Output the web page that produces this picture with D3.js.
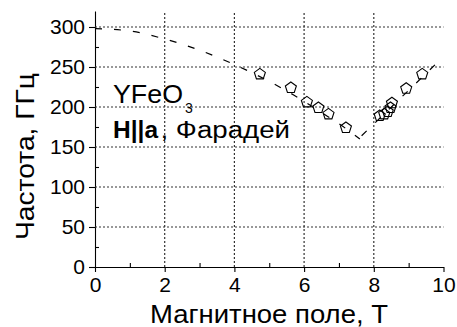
<!DOCTYPE html>
<html>
<head>
<meta charset="utf-8">
<script src="https://cdn.jsdelivr.net/npm/d3@7"></script>
<style>
  body { margin: 0; background: #fff; }
  svg { display: block; }
  text { font-family: Arial, "Liberation Sans", sans-serif; fill: #000; }
</style>
</head>
<body>
<svg id="chart" width="457" height="327"></svg>
<script>
// Axis ticks
const fieldTicks = [0, 2, 4, 6, 8, 10];
const fieldMinorTicks = [1, 3, 5, 7, 9];
const freqTicks = [0, 50, 100, 150, 200, 250, 300];
const freqMinorTicks = [25, 75, 125, 175, 225, 275];
const gridField = [2, 4, 6, 8];
const gridFreq = [50, 100, 150, 200, 250, 300];

// Measured resonance frequencies (T, GHz)
const lowField = [4.73, 5.62, 6.08, 6.41, 6.70, 7.20];
const lowFreq = [242, 225, 207, 200, 192, 175];
const highField = [8.17, 8.30, 8.40, 8.48, 8.52, 8.93, 9.39];
const highFreq = [190, 192, 195, 200, 206, 224, 242];

// Calculated branches (dashed)
const calcLowField = [0, 1, 2, 3, 4, 5, 5.7, 6.5, 7.2, 7.6];
const calcLowFreq = [298, 295, 285, 271, 253, 232, 215, 193, 173, 160];
const calcHighField = [7.65, 10];
const calcHighFreq = [164, 263];

const svg = d3.select("#chart");
const x = d3.scaleLinear().domain([0, 10]).range([95, 443.5]);
const y = d3.scaleLinear().domain([0, 320]).range([267, 11]);

// Minor ticks (inside)
svg.append("g").attr("class", "minor").attr("transform", `translate(0,${y(0)})`)
  .call(d3.axisBottom(x).tickValues(fieldMinorTicks).tickSize(-4).tickSizeOuter(0).tickFormat(""))
  .call(g => g.select(".domain").remove());
svg.append("g").attr("class", "minor").attr("transform", `translate(${x(0)},0)`)
  .call(d3.axisLeft(y).tickValues(freqMinorTicks).tickSize(-4).tickSizeOuter(0).tickFormat(""))
  .call(g => g.select(".domain").remove());
svg.selectAll(".minor line").attr("stroke", "#000").attr("stroke-width", 1.1);

// Major axes
const xAxis = svg.append("g").attr("class", "major").attr("transform", `translate(0,${y(0)})`)
  .call(d3.axisBottom(x).tickValues(fieldTicks).tickSize(5).tickSizeOuter(0).tickPadding(5));
xAxis.selectAll("text").attr("font-size", 21).attr("font-family", null).attr("dy", "0.71em");
const yAxis = svg.append("g").attr("class", "major").attr("transform", `translate(${x(0)},0)`)
  .call(d3.axisLeft(y).tickValues(freqTicks).tickSize(6).tickSizeOuter(0).tickPadding(4));
yAxis.selectAll("text").attr("font-size", 21).attr("font-family", null);
svg.selectAll(".major .domain, .major .tick line").attr("stroke", "#000").attr("stroke-width", 1.1);

// Dotted grid through the major ticks
const grid = svg.append("g").attr("class", "grid")
  .attr("stroke", "#333").attr("stroke-width", 1.2).attr("stroke-dasharray", "2,2");
gridField.forEach(d => {
  grid.append("line").attr("x1", x(d)).attr("x2", x(d)).attr("y1", y(0)).attr("y2", y(320));
});
gridFreq.forEach(d => {
  grid.append("line").attr("x1", x(0)).attr("x2", x(10)).attr("y1", y(d)).attr("y2", y(d));
});

// Dashed calculated branches
const line = d3.line().x(d => x(d[0])).y(d => y(d[1])).curve(d3.curveMonotoneX);
const dashed = svg.append("g").attr("fill", "none").attr("stroke", "#000")
  .attr("stroke-width", 1.2).attr("stroke-dasharray", "7,12");
dashed.append("path").attr("d", line(d3.zip(calcLowField, calcLowFreq)));
dashed.append("path").attr("d", line(d3.zip(calcHighField, calcHighFreq)));

// Open pentagon markers
const r = 5.8;
const pentagon = d3.range(5).map(i => {
  const a = -Math.PI / 2 + i * 2 * Math.PI / 5;
  return [r * Math.cos(a), r * Math.sin(a)];
});
const pentPath = "M" + pentagon.map(p => p.join(",")).join("L") + "Z";
const pts = d3.zip(lowField, lowFreq).concat(d3.zip(highField, highFreq));
svg.append("g").selectAll("path").data(pts).join("path")
  .attr("d", pentPath)
  .attr("transform", d => `translate(${x(d[0])},${y(d[1]) + 0.8})`)
  .attr("fill", "none").attr("stroke", "#000").attr("stroke-width", 1.1);

// Annotation
svg.append("text").attr("x", 113).attr("y", 103.3).attr("font-size", 25.5)
  .attr("textLength", 70).attr("lengthAdjust", "spacingAndGlyphs").text("YFeO");
svg.append("text").attr("x", 185).attr("y", 113.3).attr("font-size", 14).text("3");
svg.append("text").attr("x", 113).attr("y", 138.3).attr("font-size", 23)
  .attr("font-weight", "bold").attr("textLength", 45).attr("lengthAdjust", "spacingAndGlyphs")
  .text("H||a");
svg.append("text").attr("x", 160.5).attr("y", 138.3).attr("font-size", 23)
  .attr("textLength", 129.5).attr("lengthAdjust", "spacingAndGlyphs").text(", Фарадей");

// Axis titles
svg.append("text").attr("x", 269).attr("y", 323).attr("font-size", 25.5)
  .attr("text-anchor", "middle").attr("textLength", 238).attr("lengthAdjust", "spacingAndGlyphs")
  .text("Магнитное поле, Т");
svg.append("text").attr("transform", "translate(33.5,156.5) rotate(-90)").attr("font-size", 26)
  .attr("text-anchor", "middle").attr("textLength", 167).attr("lengthAdjust", "spacingAndGlyphs")
  .text("Частота, ГГц");
</script>
</body>
</html>
